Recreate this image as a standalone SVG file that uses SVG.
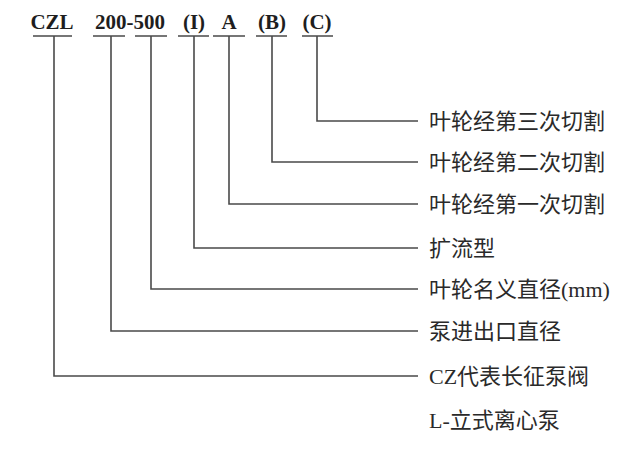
<svg xmlns="http://www.w3.org/2000/svg" width="638" height="450" viewBox="0 0 638 450">
<style>
.code{font-family:"Liberation Serif","Times New Roman",serif;font-weight:bold;font-size:21px;fill:#1e1e1e;text-anchor:middle}
.lbl{font-family:"Liberation Serif","Noto Sans CJK SC",serif;font-size:22px;fill:#2a2a2a}
.ln{fill:none;stroke:#4a4a4a;stroke-width:1.6}
</style>
<rect width="638" height="450" fill="#ffffff"/>
<g id="code">
<text class="code" x="52" y="29">CZL</text>
<text class="code" x="130" y="29">200-500</text>
<text class="code" x="194" y="29">(I)</text>
<text class="code" x="229" y="29">A</text>
<text class="code" x="272" y="29">(B)</text>
<text class="code" x="317" y="29">(C)</text>
</g>
<g id="connectors">
<path class="ln" d="M33 36H72M93 36H125M135 36H167M178 36H209M213 36H245M256 36H287M302 36H333"/>
<path class="ln" d="M317 36V121H418"/>
<path class="ln" d="M272 36V162H418"/>
<path class="ln" d="M229 36V204H418"/>
<path class="ln" d="M194 36V248H418"/>
<path class="ln" d="M151 36V289H418"/>
<path class="ln" d="M111 36V331H418"/>
<path class="ln" d="M54 36V376H418"/>
</g>
<g id="labels">
<text class="lbl" x="429" y="129">叶轮经第三次切割</text>
<text class="lbl" x="429" y="170">叶轮经第二次切割</text>
<text class="lbl" x="429" y="212">叶轮经第一次切割</text>
<text class="lbl" x="429" y="256">扩流型</text>
<text class="lbl" x="429" y="297">叶轮名义直径(mm)</text>
<text class="lbl" x="429" y="339">泵进出口直径</text>
<text class="lbl" x="429" y="384">CZ代表长征泵阀</text>
<text class="lbl" x="429" y="428">L-立式离心泵</text>
</g>
</svg>
